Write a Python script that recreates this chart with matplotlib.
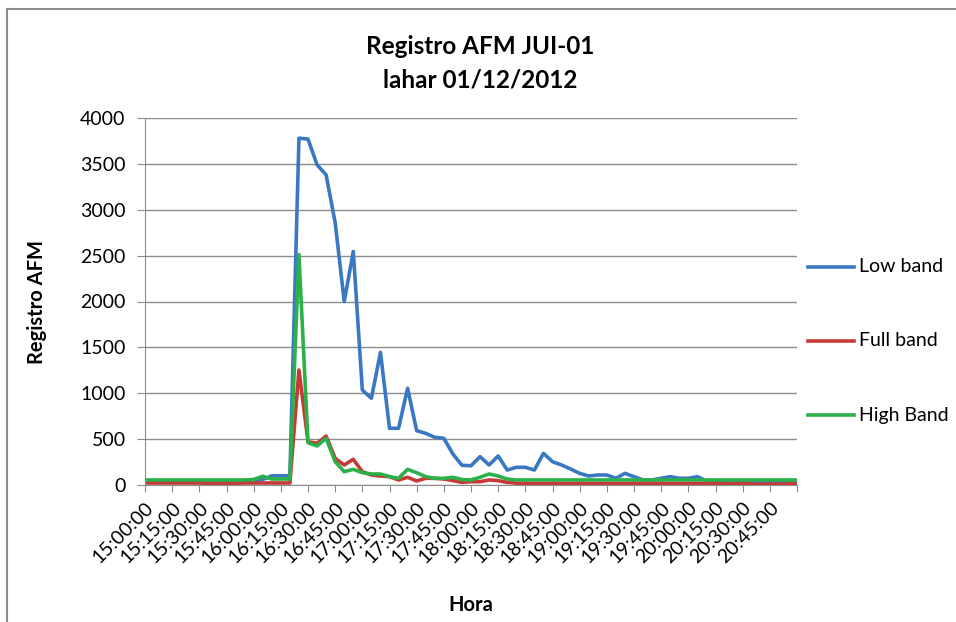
import matplotlib
matplotlib.use("Agg")
import matplotlib.pyplot as plt
from matplotlib.lines import Line2D

plt.rcParams['font.family'] = ['Lato', 'DejaVu Sans']

# 5-minute samples, 15:00 .. 21:00
horas = ["%02d:%02d:00" % (15 + (5 * i) // 60, (5 * i) % 60) for i in range(73)]

low_band = [45, 45, 45, 45, 45, 45, 45, 40, 30, 28, 30, 40, 45, 60, 100, 100, 100,
            3780, 3770, 3490, 3380, 2860, 2000, 2545, 1035, 945, 1446, 618, 618, 1054,
            592, 563, 520, 509, 338, 215, 210, 309, 218, 316, 163, 193, 193, 163, 345,
            254, 218, 174, 127, 98, 109, 109, 73, 127, 91, 55, 55, 73, 91, 73, 73, 91,
            44, 45, 45, 45, 40, 40, 40, 40, 40, 40, 40]

full_band = [22, 22, 22, 22, 22, 22, 22, 20, 15, 15, 18, 22, 22, 22, 22, 22, 22,
             1253, 472, 454, 534, 291, 218, 280, 145, 109, 98, 91, 55, 84,
             44, 73, 73, 65, 48, 29, 36, 36, 55, 47, 29, 20, 18, 18, 18,
             18, 18, 18, 18, 18, 18, 18, 18, 18, 18, 18, 18, 18, 18, 18, 18, 18,
             18, 15, 12, 12, 15, 10, 8, 8, 10, 12, 15]

high_band = [55, 55, 55, 55, 55, 55, 55, 55, 55, 55, 55, 55, 60, 95, 65, 65, 65,
             2510, 461, 425, 509, 254, 145, 171, 134, 120, 120, 91, 73, 171,
             134, 91, 73, 73, 84, 60, 55, 84, 120, 98, 65, 55, 55, 55, 55,
             55, 55, 55, 55, 55, 55, 55, 55, 55, 55, 55, 55, 55, 55, 55, 55, 55,
             55, 55, 55, 55, 55, 55, 55, 55, 55, 55, 55]

series = [("Low band", low_band, "#3B78C2"),
          ("Full band", full_band, "#C53A36"),
          ("High Band", high_band, "#2CB14A")]

fig = plt.figure(figsize=(9.56, 6.22), dpi=100)
ax = fig.add_axes([145 / 956, 1 - 485 / 622, (797 - 145) / 956, (485 - 118) / 622])

x = list(range(len(horas)))
for name, vals, col in series:
    ax.plot(x, vals, color=col, lw=2.6, solid_joinstyle='round', label=name)

ax.set_xlim(0, 72)
ax.set_ylim(0, 4000)
ax.set_yticks(range(0, 4001, 500))
ax.yaxis.grid(True, color="#8c8c8c", lw=1.0)
ax.set_axisbelow(True)

ax.set_xticks(range(0, 73, 3))
ax.set_xticklabels([horas[i] if i < 72 else "" for i in range(0, 73, 3)],
                   rotation=45, ha='right', va='top', rotation_mode='anchor',
                   fontsize=14)
ax.tick_params(axis='x', length=5, color="#8c8c8c", pad=5)
ax.tick_params(axis='y', length=6, color="#8c8c8c", labelsize=14, pad=8)

for s in ("top", "right"):
    ax.spines[s].set_visible(False)
for s in ("left", "bottom"):
    ax.spines[s].set_color("#8c8c8c")

ax.set_ylabel("Registro AFM", fontsize=14.5, fontweight='bold')
ax.yaxis.set_label_coords((47 - 145) / 652, 0.5)
ax.set_xlabel("Hora", fontsize=14.5, fontweight='bold')
ax.xaxis.set_label_coords(0.5, (485 - 605) / 367)
ax.xaxis.label.set_va('center')

fig.text(480 / 956, 1 - 47 / 622, "Registro AFM JUI-01", ha='center', va='center',
         fontsize=17.5, fontweight='bold')
fig.text(480 / 956, 1 - 80 / 622, "lahar 01/12/2012", ha='center', va='center',
         fontsize=17.5, fontweight='bold')

# legend drawn as separate entries spaced down the right side
for (name, vals, col), ypix in zip(series, (267, 341, 415)):
    yf = 1 - ypix / 622
    fig.add_artist(Line2D([808 / 956, 854 / 956], [yf, yf], color=col, lw=2.6))
    fig.text(859 / 956, yf, name, ha='left', va='center', fontsize=14)

# chart frame
fig.add_artist(Line2D([7 / 956, 7 / 956], [0, 1 - 9 / 622], color="#8c8c8c", lw=1.5))
fig.add_artist(Line2D([7 / 956, 1], [1 - 9 / 622, 1 - 9 / 622], color="#8c8c8c", lw=1.5))

fig.savefig("out.png", dpi=100)
